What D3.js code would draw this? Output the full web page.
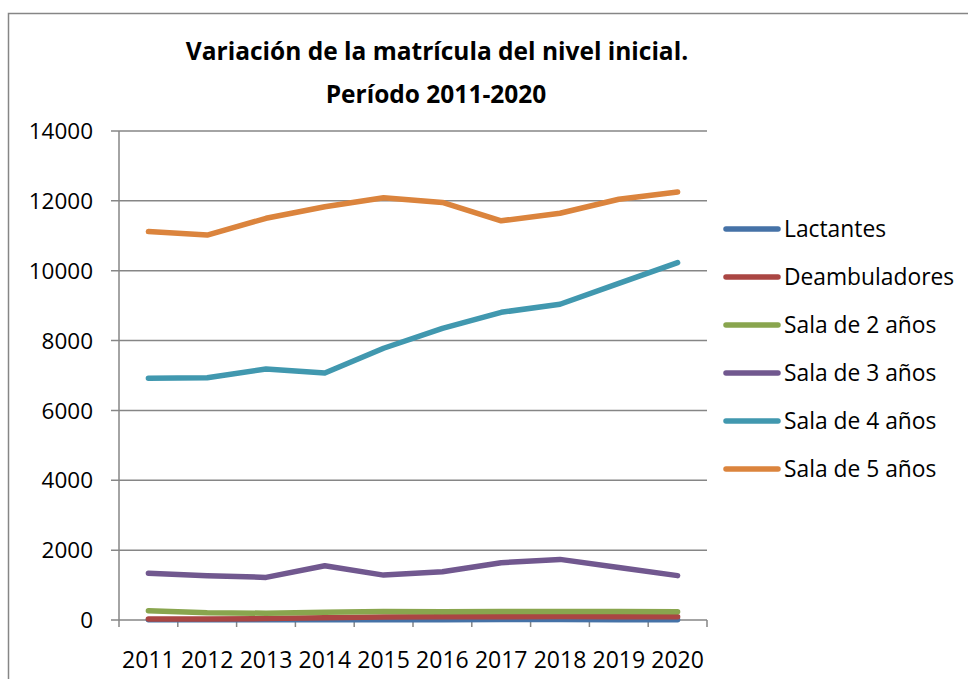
<!DOCTYPE html>
<html>
<head>
<meta charset="utf-8">
<script src="https://cdn.jsdelivr.net/npm/d3@7"></script>
<style>
body { margin:0; background:#fff; }
text { font-family: "Open Sans", "Noto Sans", sans-serif; fill:#000; }
</style>
</head>
<body>
<div id="ChartDiv"></div>
<script>

var years = ['2011','2012','2013','2014','2015','2016','2017','2018','2019','2020'];
var seriesNames = ['Lactantes','Deambuladores','Sala de 2 años','Sala de 3 años','Sala de 4 años','Sala de 5 años'];
var lactantes     = [8, 8, 6, 8, 10, 10, 12, 12, 10, 8];
var deambuladores = [30, 30, 40, 65, 85, 90, 95, 100, 95, 95];
var sala2         = [265, 205, 195, 225, 245, 235, 240, 245, 240, 235];
var sala3         = [1340, 1270, 1220, 1555, 1285, 1380, 1640, 1735, 1505, 1270];
var sala4         = [6920, 6935, 7185, 7070, 7780, 8350, 8810, 9040, 9640, 10230];
var sala5         = [11120, 11020, 11500, 11830, 12090, 11955, 11430, 11645, 12045, 12255];
var yTicks = [0, 2000, 4000, 6000, 8000, 10000, 12000, 14000];
var colors = ['#4572A7','#AA4643','#89A54E','#71588F','#4198AF','#DB843D'];

var allSeries = [lactantes, deambuladores, sala2, sala3, sala4, sala5];

var wd = 968, ht = 679;

var svg = d3.select('#ChartDiv')
	.append('svg')
	.attr('width', wd)
	.attr('height', ht);

// chart frame (runs off the right/bottom edge like the screenshot)
svg.append('rect')
	.attr('x', 8.5)
	.attr('y', 13.5)
	.attr('width', 980)
	.attr('height', 700)
	.attr('fill', 'none')
	.attr('stroke', '#868686')
	.attr('stroke-width', 1.5);

var x = d3.scaleBand().domain(years).range([119, 707]);
var y = d3.scaleLinear().domain([0, 14000]).range([620, 131]);

// gridlines
svg.selectAll('.grid')
	.data(yTicks)
	.enter()
	.append('line')
	.attr('class', 'grid')
	.attr('x1', 111)
	.attr('x2', 707)
	.attr('y1', function(d){ return y(d); })
	.attr('y2', function(d){ return y(d); })
	.attr('stroke', '#868686')
	.attr('stroke-width', 1.5);

// y axis line
svg.append('line')
	.attr('x1', 119).attr('x2', 119)
	.attr('y1', y(14000)).attr('y2', y(0))
	.attr('stroke', '#868686')
	.attr('stroke-width', 1.5);

// x axis ticks between categories
var bounds = years.map(function(d){ return x(d); }).concat([x.range()[1]]);
svg.selectAll('.xtick')
	.data(bounds)
	.enter()
	.append('line')
	.attr('class', 'xtick')
	.attr('x1', function(d){ return d; })
	.attr('x2', function(d){ return d; })
	.attr('y1', y(0))
	.attr('y2', y(0) + 7)
	.attr('stroke', '#868686')
	.attr('stroke-width', 1.5);

svg.selectAll('.ylab')
	.data(yTicks)
	.enter()
	.append('text')
	.attr('class', 'ylab')
	.attr('x', 93)
	.attr('y', function(d){ return y(d); })
	.attr('dy', '0.36em')
	.attr('text-anchor', 'end')
	.style('font-size', '22.5px')
	.text(function(d){ return d; });

svg.selectAll('.xlab')
	.data(years)
	.enter()
	.append('text')
	.attr('class', 'xlab')
	.attr('x', function(d){ return x(d) + x.bandwidth()/2; })
	.attr('y', 668)
	.attr('text-anchor', 'middle')
	.style('font-size', '23px')
	.text(function(d){ return d; });

var line = d3.line()
	.x(function(d, i){ return x(years[i]) + x.bandwidth()/2; })
	.y(function(d){ return y(d); });

svg.selectAll('.series')
	.data(allSeries)
	.enter()
	.append('path')
	.attr('class', 'series')
	.attr('d', line)
	.attr('fill', 'none')
	.attr('stroke', function(d, i){ return colors[i]; })
	.attr('stroke-width', 5.5)
	.attr('stroke-linejoin', 'round')
	.attr('stroke-linecap', 'round');

// title
svg.append('text')
	.attr('x', 437)
	.attr('y', 60)
	.attr('text-anchor', 'middle')
	.style('font-size', '24.5px')
	.style('font-weight', 'bold')
	.text('Variación de la matrícula del nivel inicial.');
svg.append('text')
	.attr('x', 436)
	.attr('y', 103)
	.attr('text-anchor', 'middle')
	.style('font-size', '24.5px')
	.style('font-weight', 'bold')
	.text('Período 2011-2020');

// legend
var legend = svg.selectAll('.legend')
	.data(seriesNames)
	.enter()
	.append('g')
	.attr('class', 'legend')
	.attr('transform', function(d, i){ return 'translate(0,' + (229 + i*48) + ')'; });

legend.append('line')
	.attr('x1', 726).attr('x2', 778)
	.attr('y1', 0).attr('y2', 0)
	.attr('stroke', function(d, i){ return colors[i]; })
	.attr('stroke-width', 5.5)
	.attr('stroke-linecap', 'round');

legend.append('text')
	.attr('x', 784)
	.attr('dy', '0.36em')
	.style('font-size', '22.8px')
	.text(function(d){ return d; });

</script>
</body>
</html>
